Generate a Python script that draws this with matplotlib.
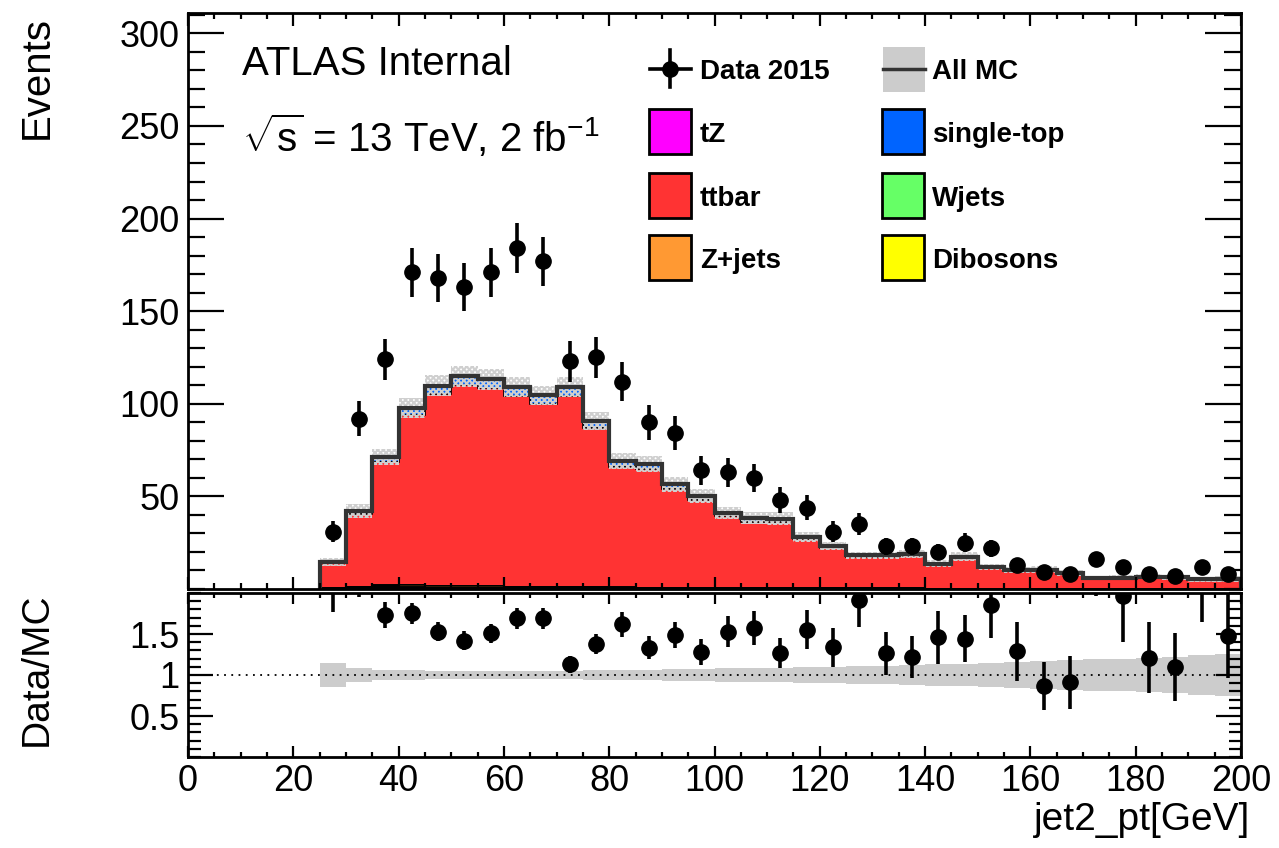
import numpy as np
import matplotlib
matplotlib.use("Agg")
import matplotlib.pyplot as plt
from matplotlib.patches import Rectangle
from matplotlib.lines import Line2D
from matplotlib.ticker import MultipleLocator

plt.rcParams["font.family"] = ["Liberation Sans", "DejaVu Sans"]
plt.rcParams["mathtext.fontset"] = "custom"
plt.rcParams["mathtext.rm"] = "Liberation Sans"
plt.rcParams["mathtext.it"] = "Liberation Sans"
plt.rcParams["hatch.linewidth"] = 1.5

##################################################
# binning and values
##################################################
bin_edges = np.arange(25, 201, 5)

data_2015 = [31, 92, 124, 171, 168, 163, 171, 184, 177, 123,
             125, 112, 90, 84, 64, 63, 60, 48, 44, 31,
             35, 23, 23, 20, 25, 22, 13, 9, 8, 16,
             12, 8, 7, 12, 8]

ttbar = [13.3, 39.3, 66.8, 91.7, 103.6, 108.4, 106.8, 103.0, 98.9, 103.2,
         85.8, 65.2, 63.8, 53.2, 47.1, 38.9, 35.9, 35.7, 26.6, 21.9,
         17.2, 17.1, 17.7, 12.9, 16.4, 11.2, 9.6, 10.0, 8.4, 5.8,
         5.8, 6.3, 6.1, 4.9, 5.1]

single_top = [0.5, 1.7, 2.8, 3.9, 4.5, 4.8, 4.8, 4.6, 4.5, 4.5,
              3.9, 3.1, 2.9, 2.5, 2.2, 1.8, 1.7, 1.7, 1.3, 1.0,
              0.8, 0.8, 0.8, 0.6, 0.7, 0.6, 0.4, 0.4, 0.4, 0.3,
              0.3, 0.3, 0.3, 0.3, 0.3]

zjets = [0.3, 0.6, 0.9, 1.0, 0.8, 0.7, 0.7, 0.6, 0.5, 0.5,
         0.4, 0.4, 0.3, 0.3, 0.3, 0.2, 0.2, 0.2, 0.2, 0.1,
         0.1, 0.1, 0.1, 0.1, 0.1, 0.1, 0.1, 0.0, 0.0, 0.0,
         0.0, 0.0, 0.0, 0.0, 0.0]

wjets = [0.2, 0.4, 0.6, 0.7, 0.5, 0.4, 0.4, 0.3, 0.3, 0.3,
         0.3, 0.2, 0.2, 0.2, 0.2, 0.1, 0.1, 0.1, 0.1, 0.1,
         0.1, 0.1, 0.1, 0.0, 0.0, 0.0, 0.0, 0.0, 0.0, 0.0,
         0.0, 0.0, 0.0, 0.0, 0.0]

dibosons = [0.1, 0.2, 0.3, 0.3, 0.3, 0.4, 0.4, 0.3, 0.3, 0.3,
            0.2, 0.2, 0.2, 0.2, 0.1, 0.1, 0.1, 0.1, 0.1, 0.1,
            0.1, 0.1, 0.1, 0.1, 0.1, 0.0, 0.0, 0.0, 0.0, 0.0,
            0.0, 0.0, 0.0, 0.0, 0.0]

tz = [0.0, 0.1, 0.1, 0.1, 0.1, 0.1, 0.1, 0.1, 0.1, 0.1,
      0.1, 0.1, 0.1, 0.1, 0.1, 0.1, 0.1, 0.1, 0.0, 0.0,
      0.0, 0.0, 0.0, 0.0, 0.0, 0.0, 0.0, 0.0, 0.0, 0.0,
      0.0, 0.0, 0.0, 0.0, 0.0]

# relative MC uncertainty per bin
mc_rel_unc = [0.15, 0.09, 0.06, 0.055, 0.05, 0.05, 0.05, 0.05, 0.05, 0.05,
              0.055, 0.06, 0.065, 0.07, 0.075, 0.08, 0.085, 0.09, 0.095, 0.10,
              0.105, 0.11, 0.12, 0.13, 0.14, 0.15, 0.16, 0.17, 0.18, 0.19,
              0.20, 0.21, 0.22, 0.24, 0.26]

stack_order = ["Dibosons", "Wjets", "Z+jets", "tZ", "ttbar", "single-top"]
stack_values = [dibosons, wjets, zjets, tz, ttbar, single_top]
colors = {"tZ": "#ff00ff", "single-top": "#0064ff", "ttbar": "#ff3333",
          "Wjets": "#66ff66", "Z+jets": "#ff9933", "Dibosons": "#ffff00"}

##################################################
# derived arrays
##################################################
centers = 0.5 * (bin_edges[:-1] + bin_edges[1:])
data = np.array(data_2015, dtype=float)
total = np.sum(np.array(stack_values), axis=0)
rel = np.array(mc_rel_unc)
ratio = data / total
ratio_err = np.sqrt(data) / total

##################################################
# figure layout in pixels (1279 x 848)
##################################################
W, H = 1279, 848
def fx(px):
    return px / W
def fy(py):
    return 1 - py / H

fig = plt.figure(figsize=(W / 100, H / 100), dpi=100)
ax = fig.add_axes([fx(188), fy(589), (1241 - 188) / W, (589 - 13) / H])
ax2 = fig.add_axes([fx(188), fy(757), (1241 - 188) / W, (757 - 593) / H])

# stacked MC
ax.hist([centers] * len(stack_values), bins=bin_edges, weights=stack_values,
        stacked=True, histtype="stepfilled",
        color=[colors[n] for n in stack_order], edgecolor="black", linewidth=1.2)
# MC uncertainty hatch
ax.stairs(total * (1 + rel), bin_edges, baseline=total * (1 - rel), fill=True,
          facecolor="none", edgecolor="#cfcfcf", hatch="x" * 6, linewidth=0)
# all MC line
ax.stairs(total, bin_edges, color="#333333", linewidth=3)
# data
ax.errorbar(centers, data, yerr=np.sqrt(data), fmt="o", color="black",
            ms=11, elinewidth=2.6, capsize=0)

ax.set_xlim(0, 200)
ax.set_ylim(0, 311)
ax.set_yticks(np.arange(50, 301, 50))
ax.yaxis.set_minor_locator(MultipleLocator(10))
ax.xaxis.set_major_locator(MultipleLocator(20))
ax.xaxis.set_minor_locator(MultipleLocator(5))
ax.tick_params(labelbottom=False)

# ratio panel
ax2.stairs(1 + rel, bin_edges, baseline=1 - rel, fill=True, color="#cccccc",
           linewidth=0)
ax2.axhline(1, color="black", linestyle=(0, (1, 3)), linewidth=1.3)
ax2.errorbar(centers, ratio, yerr=ratio_err, fmt="o", color="black",
             ms=11, elinewidth=2.6, capsize=0)
ax2.set_xlim(0, 200)
ax2.set_ylim(0, 2)
ax2.set_yticks([0.5, 1, 1.5])
ax2.set_yticklabels(["0.5", "1", "1.5"])
ax2.yaxis.set_minor_locator(MultipleLocator(0.1))
ax2.xaxis.set_major_locator(MultipleLocator(20))
ax2.xaxis.set_minor_locator(MultipleLocator(5))

for a in (ax, ax2):
    for s in a.spines.values():
        s.set_linewidth(2)
    a.tick_params(which="both", direction="in", top=True, right=True,
                  width=1.6, labelsize=26)
    a.tick_params(axis="y", pad=6)
ax.tick_params(axis="y", which="major", length=26)
ax.tick_params(axis="y", which="minor", length=12)
ax.tick_params(axis="x", which="major", length=9)
ax.tick_params(axis="x", which="minor", length=4.5)
ax2.tick_params(axis="y", which="major", length=18)
ax2.tick_params(axis="y", which="minor", length=9)
ax2.tick_params(axis="x", which="major", length=8, pad=5)
ax2.tick_params(axis="x", which="minor", length=3.5)

# axis titles
fig.text(fx(37), fy(16), "Events", rotation=90, ha="center", va="top", fontsize=29)
fig.text(fx(37), fy(593), "Data/MC", rotation=90, ha="center", va="top", fontsize=28)
fig.text(fx(1250), fy(830), "jet2_pt[GeV]", ha="right", va="baseline", fontsize=28)

# labels
fig.text(fx(242), fy(75), "ATLAS Internal", ha="left", va="baseline", fontsize=29)
fig.text(fx(242), fy(152), r"$\sqrt{s}$ = 13 TeV, 2 fb$^{-1}$", ha="left",
         va="baseline", fontsize=29)

##################################################
# legend, drawn by hand like the ROOT one
##################################################
row_y = [69, 132, 196, 258]
box_x = [649, 882]
text_x = [700, 932]
box_w, box_h = 42, 45
legend_cols = [["Data 2015", "tZ", "ttbar", "Z+jets"],
               ["All MC", "single-top", "Wjets", "Dibosons"]]

for c, names in enumerate(legend_cols):
    for r, name in enumerate(names):
        yc = row_y[r]
        x0 = box_x[c]
        if name == "Data 2015":
            fig.add_artist(Line2D([fx(x0 + 1), fx(x0 + box_w)], [fy(yc), fy(yc)],
                                  color="black", lw=2.6))
            fig.add_artist(Line2D([fx(x0 + 21), fx(x0 + 21)], [fy(yc - 19), fy(yc + 18)],
                                  color="black", lw=2.6))
            fig.add_artist(Line2D([fx(x0 + 21)], [fy(yc)], marker="o", ms=11,
                                  color="black"))
        elif name == "All MC":
            fig.add_artist(Rectangle((fx(x0 + 1), fy(yc + 23)), box_w / W, box_h / H,
                                     facecolor="#cccccc", edgecolor="none"))
            fig.add_artist(Line2D([fx(x0 + 1), fx(x0 + box_w + 1)], [fy(yc), fy(yc)],
                                  color="#333333", lw=2.5))
        else:
            fig.add_artist(Rectangle((fx(x0), fy(yc + 22)), box_w / W, box_h / H,
                                     facecolor=colors[name], edgecolor="black",
                                     linewidth=2))
        fig.text(fx(text_x[c]), fy(yc), name, ha="left", va="center_baseline",
                 fontsize=20, fontweight="bold")

fig.savefig("out.png", dpi=100)
